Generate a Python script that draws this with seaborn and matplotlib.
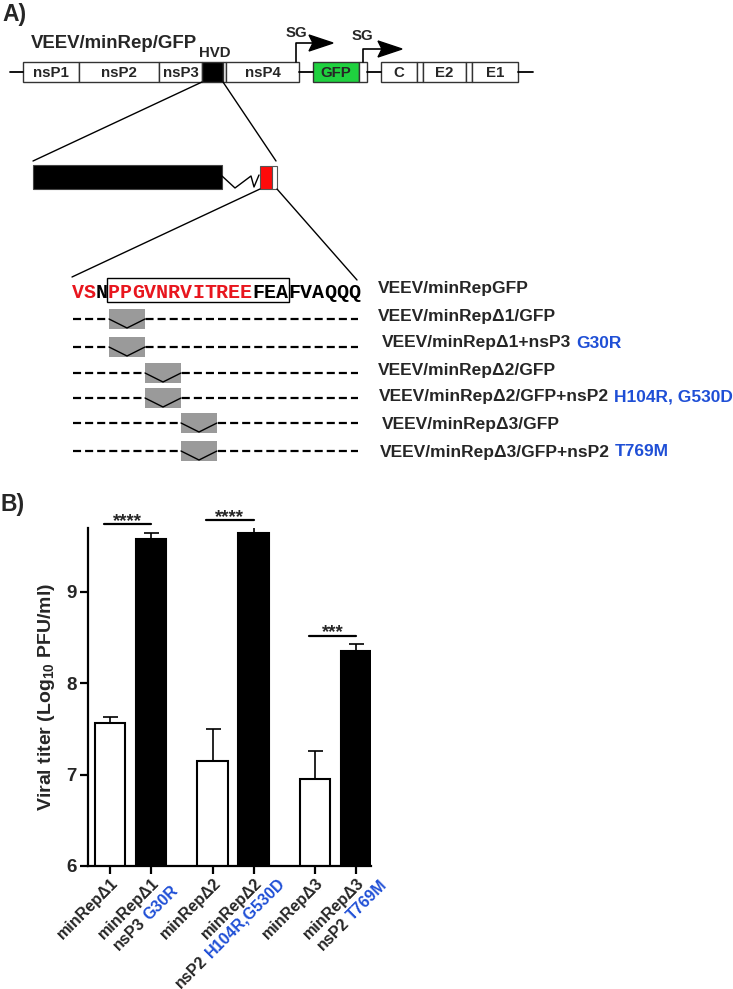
import numpy as np
import pandas as pd
import seaborn as sns
import matplotlib.pyplot as plt
import matplotlib.transforms as mtransforms
from matplotlib.patches import Rectangle, Polygon

# ---- panel B data: viral titer, log10 PFU/ml (mean, upper error) ----
bar_pos = [0, 1, 2.5, 3.5, 5, 6]
titer = [7.56, 9.58, 7.15, 9.65, 6.95, 8.35]
titer_err = [0.07, 0.06, 0.35, 0.06, 0.31, 0.08]
virus_kind = ['parent', 'mutant', 'parent', 'mutant', 'parent', 'mutant']

tick_line1 = ['minRepΔ1', 'minRepΔ1', 'minRepΔ2', 'minRepΔ2', 'minRepΔ3', 'minRepΔ3']
tick_black2 = ['', 'nsP3', '', 'nsP2', '', 'nsP2']
tick_blue2 = ['', 'G30R', '', 'H104R,G530D', '', 'T769M']

sig_pairs = [(0, 1), (2.5, 3.5), (5, 6)]
sig_stars = ['****', '****', '***']
sig_level = [9.74, 9.785, 8.52]

# ---- panel A data ----
seq = 'VSNPPGVNRVITREEFEAFVAQQQ'
seq_red = [0, 1] + list(range(3, 15))
construct_names = ['VEEV/minRepGFP', 'VEEV/minRepΔ1/GFP', 'VEEV/minRepΔ1+nsP3 G30R',
                   'VEEV/minRepΔ2/GFP', 'VEEV/minRepΔ2/GFP+nsP2 H104R, G530D',
                   'VEEV/minRepΔ3/GFP', 'VEEV/minRepΔ3/GFP+nsP2 T769M']
construct_blue = ['', '', 'G30R', '', 'H104R, G530D', '', 'T769M']
deleted_first = [3, 3, 6, 6, 9, 9]

RED = '#e8161e'
BLUE = '#1f4fd6'
GREEN = '#1fd13f'
SANS = 'Liberation Sans'

sns.set_theme(style='ticks')
plt.rcParams['font.family'] = [SANS, 'DejaVu Sans']
plt.rcParams['font.weight'] = 'bold'
plt.rcParams['axes.labelweight'] = 'bold'
plt.rcParams['mathtext.fontset'] = 'custom'
plt.rcParams['mathtext.rm'] = 'Liberation Sans:bold'
plt.rcParams['mathtext.bf'] = 'Liberation Sans:bold'
plt.rcParams['mathtext.it'] = 'Liberation Sans:bold'
plt.rcParams['mathtext.default'] = 'rm'
plt.rcParams['lines.scale_dashes'] = False

fig = plt.figure(figsize=(7.33, 9.89), dpi=100)
renderer = fig.canvas.get_renderer()

# overlay in pixel coordinates for the schematic
ov = fig.add_axes([0, 0, 1, 1])
ov.set_xlim(0, 733)
ov.set_ylim(989, 0)
ov.axis('off')


def text_width(s, size, family=SANS):
    t = fig.text(0, 0, s, fontsize=size, fontweight='bold', family=family)
    w = t.get_window_extent(renderer=renderer).width
    t.remove()
    return w


ov.text(2, 14, 'A)', fontsize=16.5, ha='left', va='center')
ov.text(0, 504, 'B)', fontsize=16.5, ha='left', va='center')

# genome map
ov.text(31, 43, 'VEEV/minRep/GFP', fontsize=13.4, ha='left', va='center')
for x0, x1 in [(10, 23), (299, 313), (367, 381), (518, 533)]:
    ov.plot([x0, x1], [72, 72], color='black', lw=1.3)
genome_parts = [('nsP1', 23, 79, 'white'), ('nsP2', 79, 159, 'white'),
                ('nsP3', 159, 202, 'white'), ('', 202, 223, 'black'),
                ('', 223, 226, 'white'), ('nsP4', 226, 299, 'white'),
                ('GFP', 313, 359, GREEN), ('', 359, 367, 'white'),
                ('C', 381, 417, 'white'), ('', 417, 423, 'white'),
                ('E2', 423, 466, 'white'), ('', 466, 472, 'white'),
                ('E1', 472, 518, 'white')]
for name, x0, x1, fc in genome_parts:
    ov.add_patch(Rectangle((x0, 62), x1 - x0, 20, facecolor=fc,
                           edgecolor='#333333', lw=1))
    if name:
        ov.text((x0 + x1) / 2, 73, name, fontsize=10.8, ha='center', va='center')
ov.text(215, 53, 'HVD', fontsize=10.8, ha='center', va='center')

# subgenomic promoters
for xs, ytop, tip, sx, sy in [(296, 43, 333, 296, 33), (363, 49, 402, 362, 36)]:
    ov.plot([xs, xs, tip - 20], [62, ytop, ytop], color='black', lw=1.2)
    ov.add_patch(Polygon([(tip - 24, ytop - 8), (tip, ytop), (tip - 24, ytop + 8),
                          (tip - 20, ytop)], closed=True, color='black'))
    ov.text(sx, sy, 'SG', fontsize=10.8, ha='center', va='center')

# HVD zoom
ov.plot([202, 33], [82, 161], color='black', lw=1)
ov.plot([223, 276], [82, 161], color='black', lw=1)
ov.add_patch(Rectangle((33, 165), 189, 24, facecolor='black', edgecolor='#444444', lw=0.8))
ov.plot([222, 235, 251, 254, 259], [176, 188, 176, 187, 175], color='black', lw=1)
ov.add_patch(Rectangle((260, 166), 12, 23, facecolor='#ff0a0a', edgecolor='#555555', lw=0.8))
ov.add_patch(Rectangle((272, 166), 5, 23, facecolor='white', edgecolor='#555555', lw=0.8))
ov.plot([260, 72], [189, 277], color='black', lw=1)
ov.plot([277, 357], [189, 280], color='black', lw=1)

# sequence
for i, aa in enumerate(seq):
    ov.text(72 + 12 * i + 6, 292, aa, fontsize=14.4, family='Liberation Mono',
            color=RED if i in seq_red else 'black', ha='center', va='center')
ov.add_patch(Rectangle((107, 278), 182, 24, fill=False, edgecolor='black', lw=1))

# deletion rows
row_y = [319, 347, 373, 398, 423, 451]
for y, first in zip(row_y, deleted_first):
    ov.plot([73, 358], [y, y], color='black', lw=1.6, dashes=(5.8, 2.9))
    bx = 72 + 12 * first + 1
    ov.add_patch(Rectangle((bx, y - 10), 36, 20, facecolor='#9a9a9a', edgecolor='none', zorder=3))
    ov.plot([bx, bx + 18, bx + 36], [y, y + 9, y], color='black', lw=1, zorder=4)

label_y = [289, 316, 343, 370, 397, 424, 452]
label_x = [378, 378, 382, 378, 379, 382, 380]
for name, blue, x, y in zip(construct_names, construct_blue, label_x, label_y):
    black = name[:len(name) - len(blue)].rstrip() if blue else name
    ov.text(x, y, black, fontsize=12.5, ha='left', va='center')
    if blue:
        w = text_width(name, 12.5)
        ov.text(x + w, y, blue, fontsize=12.5, color=BLUE, ha='right', va='center')

# ---- panel B: bar chart ----
df = pd.DataFrame({'pos': bar_pos, 'titer': titer, 'kind': virus_kind})
ax = fig.add_axes([88 / 733, 1 - 866 / 989, 283 / 733, 338 / 989])
ax.patch.set_alpha(0)
sns.barplot(data=df, x='pos', y='titer', hue='kind', native_scale=True, dodge=False,
            palette={'parent': 'white', 'mutant': 'black'}, edgecolor='black',
            linewidth=1.5, errorbar=None, width=0.75, legend=False, ax=ax)
ax.errorbar(bar_pos, titer, yerr=[np.zeros(len(titer)), titer_err], fmt='none',
            ecolor='black', elinewidth=1.2, capsize=5.4, capthick=1.2, zorder=1)
ax.set_ylim(6, 9.7)
ax.set_xlim(-0.537, 6.366)
ax.set_yticks([6, 7, 8, 9])
ax.set_xticks(bar_pos)
ax.set_xticklabels([])
ax.set_xlabel('')
ax.set_ylabel('Viral titer (Log$_{10}$ PFU/ml)', fontsize=14, labelpad=7)
ax.tick_params(axis='both', width=1.6, length=6, labelsize=13.5, pad=2, color='black')
sns.despine(ax=ax)
for sp in ['left', 'bottom']:
    ax.spines[sp].set_linewidth(1.6)
    ax.spines[sp].set_color('black')

for (x1, x2), stars, lev in zip(sig_pairs, sig_stars, sig_level):
    ax.plot([x1 - 0.15, x2], [lev, lev], color='black', lw=1.6, clip_on=False)
    ax.annotate(stars, xy=((x1 - 0.15 + x2) / 2, lev), xytext=(0, -1),
                textcoords='offset points', ha='center', va='baseline', fontsize=13.5,
                annotation_clip=False)

# rotated two-colour tick labels
base = mtransforms.blended_transform_factory(ax.transData, ax.transAxes)
u = np.array([np.cos(np.pi / 4), np.sin(np.pi / 4)])
line2_offset = {1: (-5.3, -52.3), 3: (-23, -67), 5: (-3.7, -49)}
tsize = 11.5
for i, x in enumerate(bar_pos):
    tr = mtransforms.offset_copy(base, fig=fig, x=-22, y=-43, units='dots')
    ax.text(x, 0, tick_line1[i], transform=tr, rotation=45, rotation_mode='anchor',
            ha='center', va='center', fontsize=tsize, clip_on=False)
    if tick_black2[i]:
        full = tick_black2[i] + ' ' + tick_blue2[i]
        w = text_width(full, tsize)
        cx, cy = line2_offset[i]
        start = np.array([cx, cy]) - w / 2 * u
        end = start + w * u
        tr1 = mtransforms.offset_copy(base, fig=fig, x=start[0], y=start[1], units='dots')
        tr2 = mtransforms.offset_copy(base, fig=fig, x=end[0], y=end[1], units='dots')
        ax.text(x, 0, tick_black2[i], transform=tr1, rotation=45, rotation_mode='anchor',
                ha='left', va='center', fontsize=tsize, clip_on=False)
        ax.text(x, 0, tick_blue2[i], transform=tr2, rotation=45, rotation_mode='anchor',
                ha='right', va='center', fontsize=tsize, color=BLUE, clip_on=False)

fig.savefig('out.png', dpi=100)
